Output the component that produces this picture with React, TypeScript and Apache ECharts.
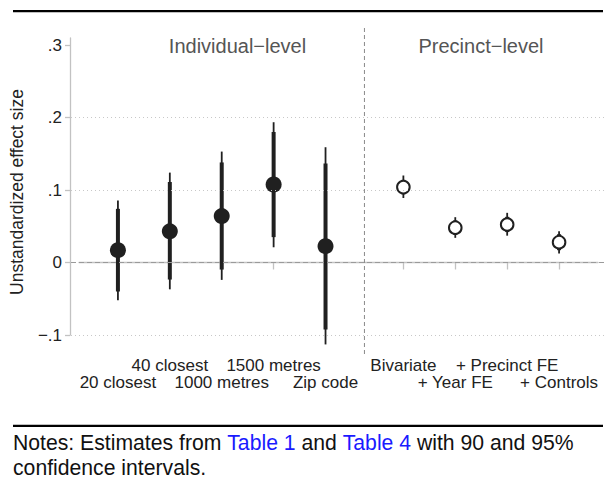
import React, { useEffect, useRef } from "react";
import * as echarts from "echarts";

const categories = ["20 closest", "40 closest", "1000 metres", "1500 metres", "Zip code", "Bivariate", "+ Year FE", "+ Precinct FE", "+ Controls"];
const positions = [1, 2, 3, 4, 5, 6.5, 7.5, 8.5, 9.5];
const groups = [0, 0, 0, 0, 0, 1, 1, 1, 1]; // 0 = individual-level, 1 = precinct-level
const estimates = [0.017, 0.043, 0.064, 0.1076, 0.0225, 0.104, 0.048, 0.0524, 0.028];
const ci90Low = [-0.040, -0.0235, -0.0097, 0.035, -0.0924, 0.094, 0.038, 0.042, 0.017];
const ci90High = [0.074, 0.111, 0.138, 0.180, 0.1366, 0.114, 0.058, 0.063, 0.039];
const ci95Low = [-0.052, -0.037, -0.024, 0.021, -0.113, 0.089, 0.034, 0.037, 0.0124];
const ci95High = [0.0855, 0.124, 0.153, 0.1935, 0.159, 0.120, 0.0625, 0.0685, 0.043];
const yTicks = [-0.1, 0, 0.1, 0.2, 0.3];
const gridValues = [-0.1, 0.1, 0.2];
const zeroLine = 0;
const panelTitles = ["Individual\u2212level", "Precinct\u2212level"];
const dividerAt = [5.75];
const yTitle = "Unstandardized effect size";

const FONT = "'Liberation Sans', Arial, Helvetica, sans-serif";
const X_MIN = 0.25;
const X_MAX = 10.25;
const UNIT = 519 / (X_MAX - X_MIN);
const Y_MIN = -0.1;
const Y_MAX = 0.3 + 7 / 725;
const AXIS_GRAY = "#c2c2c2";
const INK = "#222222";

function fmtY(v: number): string {
  const r = Math.round(v * 10);
  if (r === 0) return "0";
  return (r < 0 ? "\u2212" : "") + "." + Math.abs(r);
}

function catLabel(v: number): string {
  const idx = positions.findIndex((p) => Math.abs(p - v) < 1e-6);
  return idx < 0 ? "" : categories[idx];
}

export default function App() {
  const ref = useRef<HTMLDivElement>(null);
  useEffect(() => {
    document.body.style.margin = "0";
    const chart = echarts.init(ref.current!, null, { renderer: "svg" });
    const data = positions.map((p, i) => [p, estimates[i], ci90Low[i], ci90High[i], ci95Low[i], ci95High[i], groups[i]]);
    const upperRow = positions.filter((_, i) => i % 2 === 1);
    const lowerRow = positions.filter((_, i) => i % 2 === 0);
    const labelBase = { show: true, fontSize: 17, lineHeight: 17, color: INK, fontFamily: FONT, hideOverlap: false, formatter: catLabel };
    const option: any = {
      animation: false,
      textStyle: { fontFamily: FONT },
      grid: [
        { left: 71, top: 38, width: 536, height: 297 },
        { left: 79, top: 38, width: 519, height: 297 },
      ],
      xAxis: [
        {
          type: "value", gridIndex: 0, show: false,
          min: X_MIN - 8 / UNIT, max: X_MAX + 9 / UNIT,
        },
        {
          type: "value", gridIndex: 1, position: "bottom", offset: 20,
          min: X_MIN, max: X_MAX,
          axisLine: { show: true, lineStyle: { color: AXIS_GRAY, width: 1.3 } },
          axisTick: { show: true, length: 7, customValues: positions, lineStyle: { color: AXIS_GRAY, width: 1.3 } },
          axisLabel: { ...labelBase, customValues: upperRow, margin: 2 },
          splitLine: { show: false },
        },
        {
          type: "value", gridIndex: 1, position: "bottom", offset: 20,
          min: X_MIN, max: X_MAX,
          axisLine: { show: false },
          axisTick: { show: false },
          axisLabel: { ...labelBase, customValues: lowerRow, margin: 19 },
          splitLine: { show: false },
        },
      ],
      yAxis: [
        {
          type: "value", gridIndex: 0, position: "left", offset: 1,
          min: Y_MIN, max: Y_MAX,
          axisLine: { show: true, lineStyle: { color: AXIS_GRAY, width: 1.3 } },
          axisTick: { show: true, length: 5, customValues: yTicks, lineStyle: { color: AXIS_GRAY, width: 1.3 } },
          axisLabel: { show: true, customValues: yTicks, margin: 8, fontSize: 17, color: INK, fontFamily: FONT, formatter: fmtY, hideOverlap: false },
          splitLine: { show: false },
        },
        { type: "value", gridIndex: 1, show: false, min: Y_MIN, max: Y_MAX },
      ],
      series: [
        {
          type: "line", xAxisIndex: 0, yAxisIndex: 0, data: [], silent: true,
          markLine: {
            silent: true, symbol: "none", label: { show: false },
            data: [
              ...gridValues.map((v) => ({ yAxis: v, lineStyle: { type: [1, 3], color: "#c8c8c8", width: 1 } })),
              { yAxis: zeroLine, lineStyle: { type: [5, 3], color: "#9a9a9a", width: 1.2 } },
            ],
          },
        },
        {
          type: "custom", xAxisIndex: 1, yAxisIndex: 1, clip: false, silent: true,
          data: dividerAt.map((d) => [d]),
          renderItem: (params: any, api: any) => {
            const x = api.value(0);
            const top = api.coord([x, Y_MAX]);
            const bot = api.coord([x, Y_MIN]);
            return {
              type: "line",
              shape: { x1: top[0], y1: top[1] - 10, x2: bot[0], y2: bot[1] + 20 },
              style: { stroke: "#8a8a8a", lineWidth: 1, lineDash: [4, 3] },
            };
          },
        },
        {
          type: "custom", xAxisIndex: 1, yAxisIndex: 1, clip: false, silent: true,
          data,
          encode: { x: 0, y: 1 },
          renderItem: (params: any, api: any) => {
            const x = api.value(0);
            const g = api.value(6);
            const pE = api.coord([x, api.value(1)]);
            const p90l = api.coord([x, api.value(2)]);
            const p90h = api.coord([x, api.value(3)]);
            const p95l = api.coord([x, api.value(4)]);
            const p95h = api.coord([x, api.value(5)]);
            const col = "#202020";
            return {
              type: "group",
              children: [
                { type: "line", shape: { x1: p95l[0], y1: p95l[1], x2: p95h[0], y2: p95h[1] }, style: { stroke: col, lineWidth: 1.8 } },
                { type: "line", shape: { x1: p90l[0], y1: p90l[1], x2: p90h[0], y2: p90h[1] }, style: { stroke: col, lineWidth: 4 } },
                g === 0
                  ? { type: "circle", shape: { cx: pE[0], cy: pE[1], r: 8 }, style: { fill: col } }
                  : { type: "circle", shape: { cx: pE[0], cy: pE[1], r: 6.3 }, style: { fill: "#ffffff", stroke: col, lineWidth: 2 } },
              ],
            };
          },
        },
      ],
      graphic: [
        { type: "rect", shape: { x: 13, y: 10, width: 590, height: 2.3 }, style: { fill: "#000" } },
        { type: "rect", shape: { x: 13, y: 424.8, width: 590, height: 2.2 }, style: { fill: "#000" } },
        { type: "text", x: 237.5, y: 46, style: { text: panelTitles[0], font: `20px ${FONT}`, fill: "#555555", align: "center", verticalAlign: "middle" } },
        { type: "text", x: 481, y: 46, style: { text: panelTitles[1], font: `20px ${FONT}`, fill: "#555555", align: "center", verticalAlign: "middle" } },
        { type: "text", x: 17, y: 192, rotation: Math.PI / 2, style: { text: yTitle, font: `17.5px ${FONT}`, fill: INK, align: "center", verticalAlign: "middle" } },
        {
          type: "text", x: 13, y: 429.5,
          style: {
            text: "{n|Notes: Estimates from }{b|Table 1}{n| and }{b|Table 4}{n| with 90 and 95%}\n{n|confidence intervals.}",
            verticalAlign: "top", align: "left",
            rich: {
              n: { fontSize: 21.2, fontFamily: FONT, fill: "#111", lineHeight: 25 },
              b: { fontSize: 21.2, fontFamily: FONT, fill: "#1a1aff", lineHeight: 25 },
            },
          },
        },
      ],
    };
    chart.setOption(option);
    return () => chart.dispose();
  }, []);
  return <div ref={ref} style={{ width: 612, height: 487 }} />;
}
